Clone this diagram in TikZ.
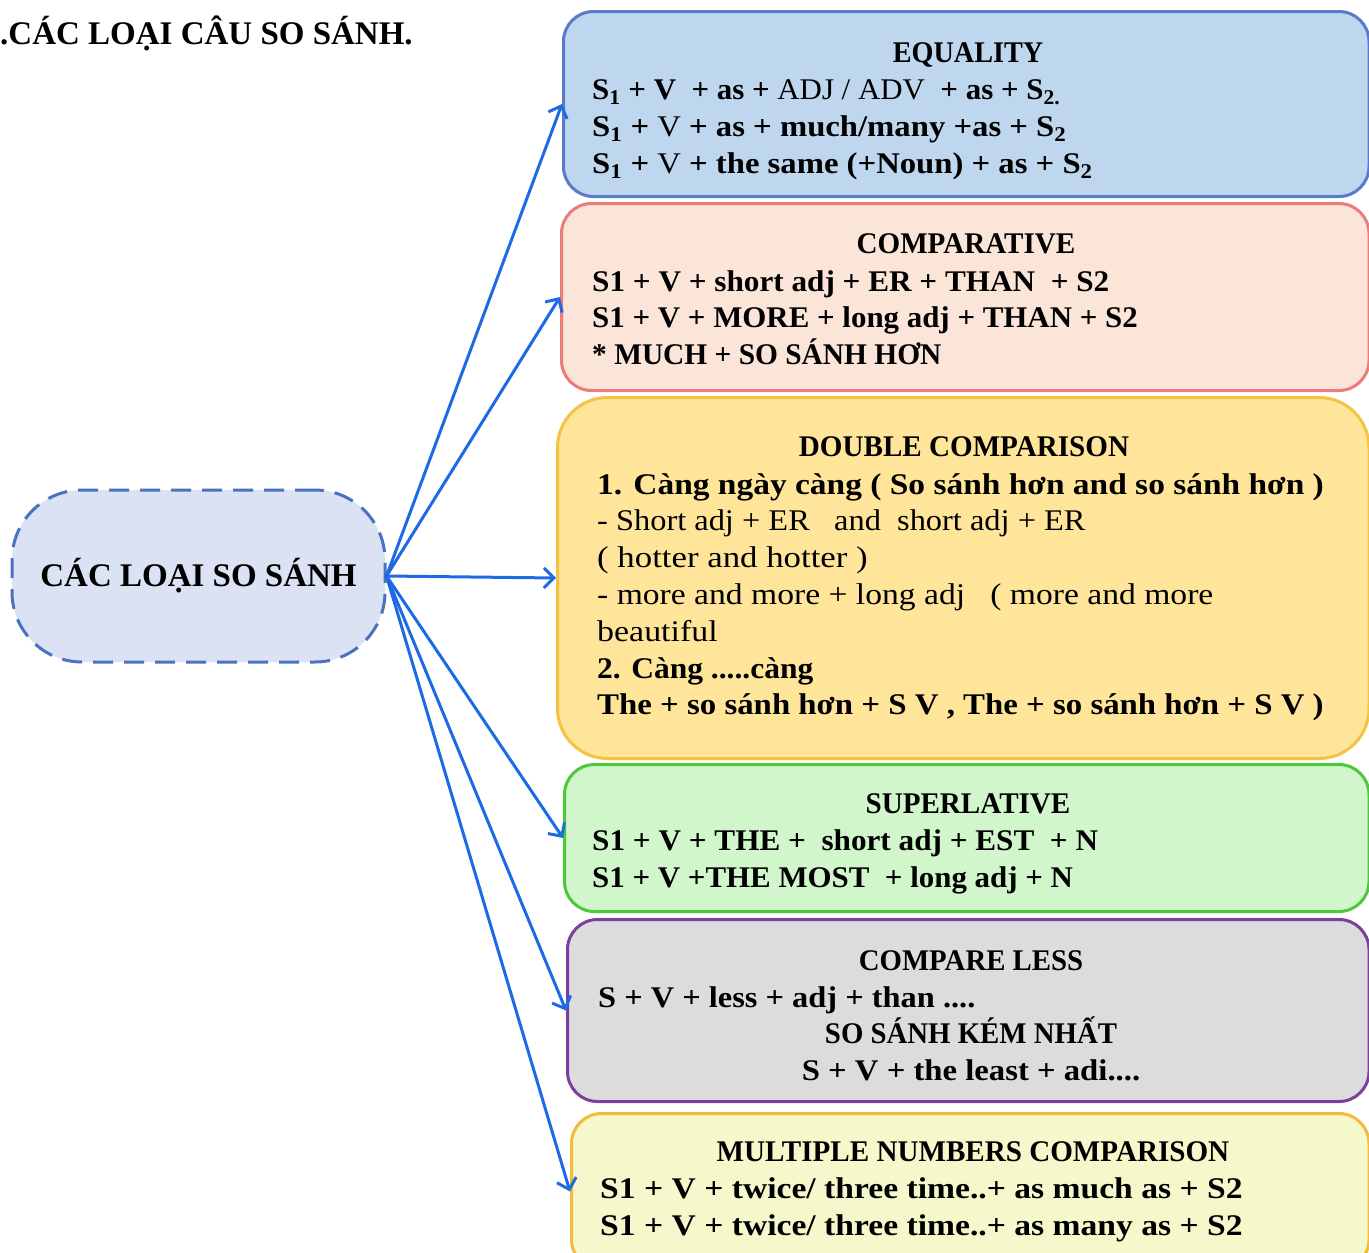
\documentclass[tikz,border=0pt]{standalone}
\usepackage{graphicx}
\usepackage{fontspec}
\setmainfont{Liberation Serif}
\usetikzlibrary{arrows.meta}

\definecolor{eqfill}{HTML}{BED6EE}
\definecolor{eqline}{HTML}{5B7BC8}
\definecolor{cpfill}{HTML}{FBE4D8}
\definecolor{cpline}{HTML}{EC7C7C}
\definecolor{dbfill}{HTML}{FFE59A}
\definecolor{dbline}{HTML}{F5C242}
\definecolor{spfill}{HTML}{D2F6CC}
\definecolor{spline}{HTML}{4CC83A}
\definecolor{lsfill}{HTML}{DCDCDC}
\definecolor{lsline}{HTML}{7B3FA0}
\definecolor{mtfill}{HTML}{F5F8CA}
\definecolor{mtline}{HTML}{F6B93B}
\definecolor{hubfill}{HTML}{DAE2F3}
\definecolor{hubline}{HTML}{4A72C0}
\definecolor{linkblue}{HTML}{1E6AE6}

% horizontal-only scaling of a line of text
\newcommand{\hs}[2]{\scalebox{#1}[1]{#2}}

\begin{document}
\begin{tikzpicture}[x=1pt,y=-1pt,
  panel/.style={draw, line width=3pt, rounded corners=30pt, anchor=north west,
    inner sep=0pt},
  hd/.style={anchor=base, inner sep=0pt, font=\fontsize{30}{36}\selectfont\bfseries},
  ln/.style={anchor=base west, inner sep=0pt, font=\fontsize{30}{36}\selectfont\bfseries},
  lnr/.style={ln, font=\fontsize{30}{36}\selectfont\mdseries},
  lnc/.style={anchor=base, inner sep=0pt, font=\fontsize{30}{36}\selectfont\bfseries},
  link/.style={draw=linkblue, line width=3pt, -{Straight Barb[length=10pt,width=20pt]}}
]
\useasboundingbox (0,0) rectangle (1369,1253);

% heading
\node[anchor=base west, inner sep=0pt, font=\fontsize{33}{38}\selectfont\bfseries]
  (heading) at (0,44) {.CÁC LOẠI CÂU SO SÁNH.};

% central dashed bubble
\node[draw=hubline, fill=hubfill, line width=3pt, dash pattern=on 20pt off 11pt,
  rounded corners=70pt, minimum width=373pt, minimum height=172pt, inner sep=0pt,
  font=\fontsize{33}{38}\selectfont\bfseries] (hub) at (198.5,576) {CÁC LOẠI SO SÁNH};

% panels
\node[panel, draw=eqline, fill=eqfill, minimum width=805.5pt, minimum height=185pt] (eq) at (562,10) {};
\node[panel, draw=cpline, fill=cpfill, minimum width=807.5pt, minimum height=187pt] (cp) at (560,202) {};
\node[panel, draw=dbline, fill=dbfill, minimum width=811.5pt, minimum height=361pt, rounded corners=50pt] (db) at (556,396) {};
\node[panel, draw=spline, fill=spfill, minimum width=804.5pt, minimum height=147pt] (sp) at (563,763) {};
\node[panel, draw=lsline, fill=lsfill, minimum width=801.5pt, minimum height=182pt] (ls) at (566,918) {};
\node[panel, draw=mtline, fill=mtfill, minimum width=797.5pt, minimum height=156pt] (mt) at (570,1112) {};

% EQUALITY
\node[hd] (eqh) at (968,62) {\hs{0.94}{EQUALITY}};
\node[ln] (eq1) at (592,99) {\hs{1.03}{S\textsubscript{1} + V \ + as + \mdseries ADJ / ADV \ \bfseries + as + S\textsubscript{2.}}};
\node[ln] (eq2) at (592,136) {\hs{1.09}{S\textsubscript{1} + \mdseries V\bfseries{} + as + much/many +as + S\textsubscript{2}}};
\node[ln] (eq3) at (592,173) {\hs{1.09}{S\textsubscript{1} + \mdseries V\bfseries{} + the same (+Noun) + as + S\textsubscript{2}}};

% COMPARATIVE
\node[hd] (cph) at (966,253) {\hs{0.97}{COMPARATIVE}};
\node[ln] (cp1) at (592,291) {\hs{1.04}{S1 + V + short adj + ER + THAN \ + S2}};
\node[ln] (cp2) at (592,327) {\hs{1.03}{S1 + V + MORE + long adj + THAN + S2}};
\node[ln] (cp3) at (592,364) {\hs{0.98}{* MUCH + SO SÁNH HƠN}};

% DOUBLE COMPARISON
\node[hd] (dbh) at (964,456) {\hs{0.97}{DOUBLE COMPARISON}};
\node[ln] (db1) at (597,494) {\hs{1.115}{1. Càng ngày càng ( So sánh hơn and so sánh hơn )}};
\node[lnr] (db2) at (597,530) {\hs{1.08}{- Short adj + ER \ \ and \ short adj + ER}};
\node[lnr] (db3) at (597,567) {\hs{1.16}{( hotter and hotter )}};
\node[lnr] (db4) at (597,604) {\hs{1.12}{- more and more + long adj \ \ ( more and more}};
\node[lnr] (db5) at (597,641) {\hs{1.13}{beautiful}};
\node[ln] (db6) at (597,678) {\hs{1.05}{2. Càng .....càng}};
\node[ln] (db7) at (597,714) {\hs{1.095}{The + so sánh hơn + S V , The + so sánh hơn + S V )}};

% SUPERLATIVE
\node[hd] (sph) at (968,813) {\hs{0.97}{SUPERLATIVE}};
\node[ln] (sp1) at (592,850) {\hs{1.04}{S1 + V + THE + \ short adj + EST \ + N}};
\node[ln] (sp2) at (592,887) {\hs{1.03}{S1 + V +THE MOST \ + long adj + N}};

% COMPARE LESS
\node[hd] (lsh) at (971,970) {\hs{0.96}{COMPARE LESS}};
\node[ln] (ls1) at (598,1007) {\hs{1.08}{S + V + less + adj + than ....}};
\node[lnc] (ls2) at (971,1043) {\hs{0.96}{SO SÁNH KÉM NHẤT}};
\node[lnc] (ls3) at (971,1080) {\hs{1.09}{S + V + the least + adi....}};

% MULTIPLE NUMBERS COMPARISON
\node[hd] (mth) at (973,1161) {\hs{0.97}{MULTIPLE NUMBERS COMPARISON}};
\node[ln] (mt1) at (600,1198) {\hs{1.12}{S1 + V + twice/ three time..+ as much as + S2}};
\node[ln] (mt2) at (600,1235) {\hs{1.12}{S1 + V + twice/ three time..+ as many as + S2}};

% connectors
\foreach \target in {eq,cp,db,sp,ls,mt}
  \draw[link] (hub.east) -- (\target.west);
\end{tikzpicture}
\end{document}
